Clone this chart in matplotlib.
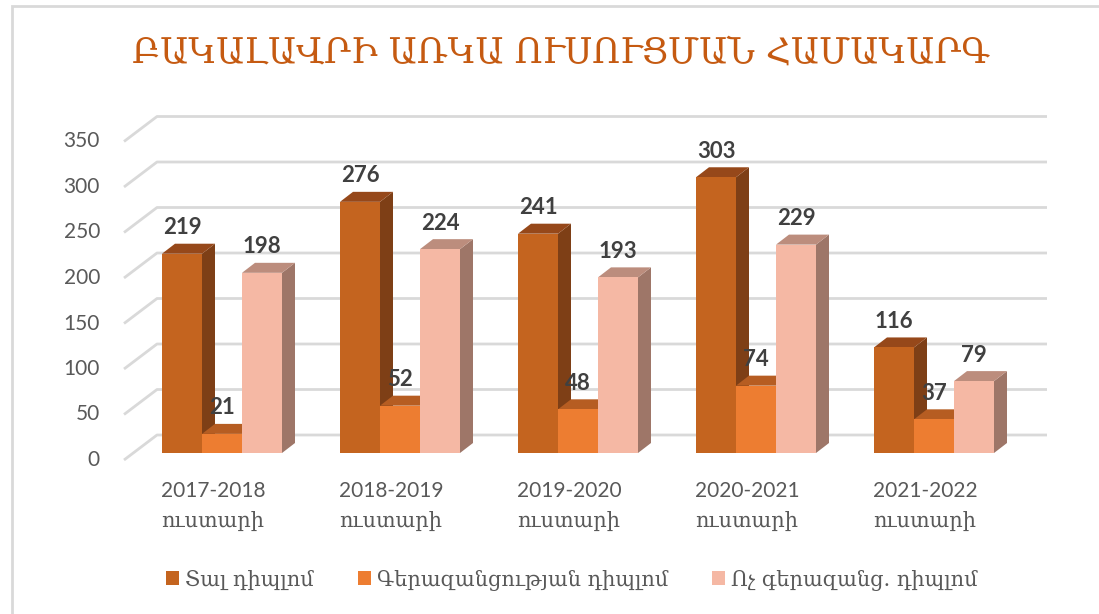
import numpy as np
import matplotlib
matplotlib.use("Agg")
import matplotlib.pyplot as plt
from matplotlib.patches import Polygon, Patch, Rectangle
from matplotlib.transforms import ScaledTranslation

# data
years = ["2017-2018\nուստարի", "2018-2019\nուստարի", "2019-2020\nուստարի",
         "2020-2021\nուստարի", "2021-2022\nուստարի"]
series_names = ["Տալ դիպլոմ", "Գերազանցության դիպլոմ", "Ոչ գերազանց. դիպլոմ"]
red_diploma = [219, 276, 241, 303, 116]
honours = [21, 52, 48, 74, 37]
regular = [198, 224, 193, 229, 79]
y_ticks = [0, 50, 100, 150, 200, 250, 300, 350]
title = "ԲԱԿԱԼԱՎՐԻ ԱՌԿԱ ՈՒՍՈՒՑՄԱՆ ՀԱՄԱԿԱՐԳ"

# face colours: front, top, side
styles = [
    ("#C4641F", "#96481A", "#7E3F16"),
    ("#ED7D31", "#B65D22", "#9E521C"),
    ("#F5B8A4", "#BC8D7D", "#9E7668"),
]

DPI = 100
W, H = 1099, 614
fig = plt.figure(figsize=(W / DPI, H / DPI), dpi=DPI)

# axes box in pixels (x0, x1, ytop, ybottom)
ax_x0, ax_x1, ax_yt, ax_yb = 104, 1060, 100, 470
ax = fig.add_axes([ax_x0 / W, 1 - ax_yb / H, (ax_x1 - ax_x0) / W, (ax_yb - ax_yt) / H])

# pixel scale of the data space (bar plane)
px_per_x = 178.0
px_per_y = 0.91
x0_px, y0_px = 222, 453
ax.set_xlim((ax_x0 - x0_px) / px_per_x, (ax_x1 - x0_px) / px_per_x)
ax.set_ylim((y0_px - ax_yb) / px_per_y, (y0_px - ax_yt) / px_per_y)
ax.axis("off")


def dx(px):
    return px / px_per_x


def dy(px):
    return px / px_per_y


# planes relative to the bar face (pixels, up positive)
front_off = (-9, -7)
back_off = (24, 18)
depth = (13, 10)
grid_c = "#D9D9D9"

for v in y_ticks:
    xs = [-0.5 + dx(front_off[0]), -0.5 + dx(back_off[0]), 4.5 + dx(back_off[0])]
    ys = [v + dy(front_off[1]), v + dy(back_off[1]), v + dy(back_off[1])]
    ax.plot(xs, ys, color=grid_c, lw=2, solid_capstyle="butt", zorder=1)
    ax.text(-0.5 + dx(front_off[0]), v + dy(front_off[1]), str(v),
            transform=ax.transData + ScaledTranslation(-24 / DPI, 0, fig.dpi_scale_trans),
            ha="right", va="center", fontsize=15, family="Lato", color="#595959")

bw = 40 / px_per_x
x = np.arange(len(years))
all_vals = [red_diploma, honours, regular]
for k, vals in enumerate(all_vals):
    front, top, side = styles[k]
    xs = x + (k - 1) * bw
    for xi, v in zip(xs, vals):
        l, r = xi - bw / 2, xi + bw / 2
        ddx, ddy = dx(depth[0]), dy(depth[1])
        ax.add_patch(Polygon([(r, 0), (r + ddx, ddy), (r + ddx, v + ddy), (r, v)],
                             closed=True, fc=side, ec="none", zorder=2 + k))
        ax.add_patch(Polygon([(l, v), (l + ddx, v + ddy), (r + ddx, v + ddy), (r, v)],
                             closed=True, fc=top, ec="none", zorder=2 + k))
    ax.bar(xs, vals, width=bw, color=front, edgecolor="none", zorder=2 + k)
    for xi, v in zip(xs, vals):
        ax.annotate(str(v), (xi, v), xytext=(0, 26 * 72 / DPI), textcoords="offset points",
                    ha="center", va="center", fontsize=16, fontweight="bold",
                    family="Lato", color="#404040", zorder=10)

for xi, lab in zip(x, years):
    ax.text(xi + dx(front_off[0]), 0 + dy(front_off[1]), lab,
            transform=ax.transData + ScaledTranslation(0, -21 / DPI, fig.dpi_scale_trans),
            ha="center", va="top", fontsize=15, family=["Lato", "DejaVu Serif"],
            color="#595959", linespacing=1.6)

fig.text(561 / W, 1 - 53 / H, title, ha="center", va="center", fontsize=25,
         family="DejaVu Serif", color="#C55A11")

handles = [Patch(facecolor=s[0], edgecolor="none") for s in styles]
fig.legend(handles, series_names, loc="center", bbox_to_anchor=(572 / W, 1 - 580 / H),
           ncol=3, frameon=False, handlelength=0.62, handleheight=0.62,
           handletextpad=0.3, columnspacing=2.1,
           prop={"family": "DejaVu Serif", "size": 15}, labelcolor="#595959")

# chart frame
fig.add_artist(Rectangle((12 / W, -0.05), 1.2, 1 - 6 / H + 0.05, transform=fig.transFigure,
                         fill=False, ec="#D9D9D9", lw=2))

fig.savefig("out.png", dpi=DPI)
